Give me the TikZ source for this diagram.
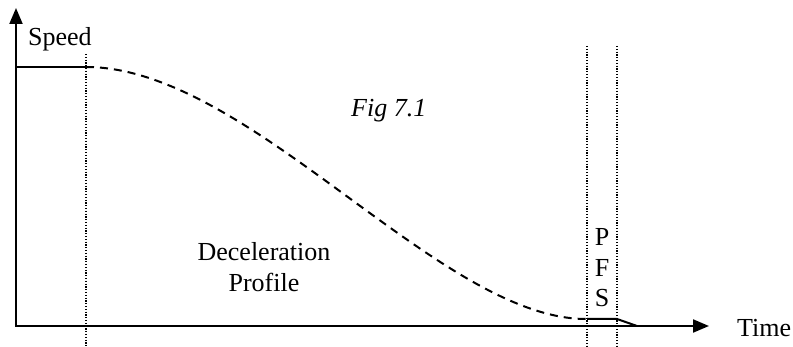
\documentclass[tikz,border=0pt]{standalone}
\usepackage{fontspec}
\setmainfont{Liberation Serif}
\usetikzlibrary{arrows.meta}

\begin{document}
\begin{tikzpicture}[x=1pt,y=1pt,yscale=-1,xscale=1,
  axisline/.style={line width=2pt},
  guideline/.style={line width=1.3pt, dash pattern=on 1.3pt off 1.5pt},
  lbl/.style={inner sep=0pt, font=\fontsize{26}{31}\selectfont}]
\useasboundingbox (0,0) rectangle (793,347);

%Coordinates of the profile
\coordinate (ybot) at (16,327);
\coordinate (ytop) at (16,8);
\coordinate (xleft) at (15,326);
\coordinate (xright) at (709,326);
\coordinate (vmax) at (16,67);
\coordinate (decstart) at (86,67);
\coordinate (decend) at (587,319);
\coordinate (pfsend) at (617,319);
\coordinate (stop) at (637,326);

%Axes
\draw [axisline, -{Triangle[length=16pt,width=13pt]}] (ybot) -- (ytop) ;
\draw [axisline, -{Triangle[length=16pt,width=13pt]}] (xleft) -- (xright) ;

%Dotted guide lines
\draw [guideline] (86,54) -- (86,347) ;
\draw [guideline] (587,46) -- (587,347) ;
\draw [guideline] (617,46) -- (617,347) ;

%Speed profile
\draw [line width=1.5pt] (vmax) -- (decstart) ;
\draw [line width=2pt, dash pattern=on 8pt off 6pt] (decstart) .. controls (250,67) and (440,320) .. (decend) ;
\draw [line width=2pt] (decend) -- (pfsend) -- (stop) ;

% Text Node
\node [lbl, anchor=base west] (speed) at (28,46) {Speed};
% Text Node
\node [lbl, anchor=base west] (fig) at (351,117) {\itshape Fig 7.1};
% Text Node
\node [lbl, anchor=base] (decel) at (264,261) {Deceleration};
\node [lbl, anchor=base] (profile) at (264,292) {Profile};
% Text Node
\node [lbl, anchor=base] (p) at (602,246) {P};
\node [lbl, anchor=base] (f) at (602,277) {F};
\node [lbl, anchor=base] (s) at (602,307) {S};
% Text Node
\node [lbl, anchor=base west] (time) at (737,337) {Time};

\end{tikzpicture}
\end{document}
